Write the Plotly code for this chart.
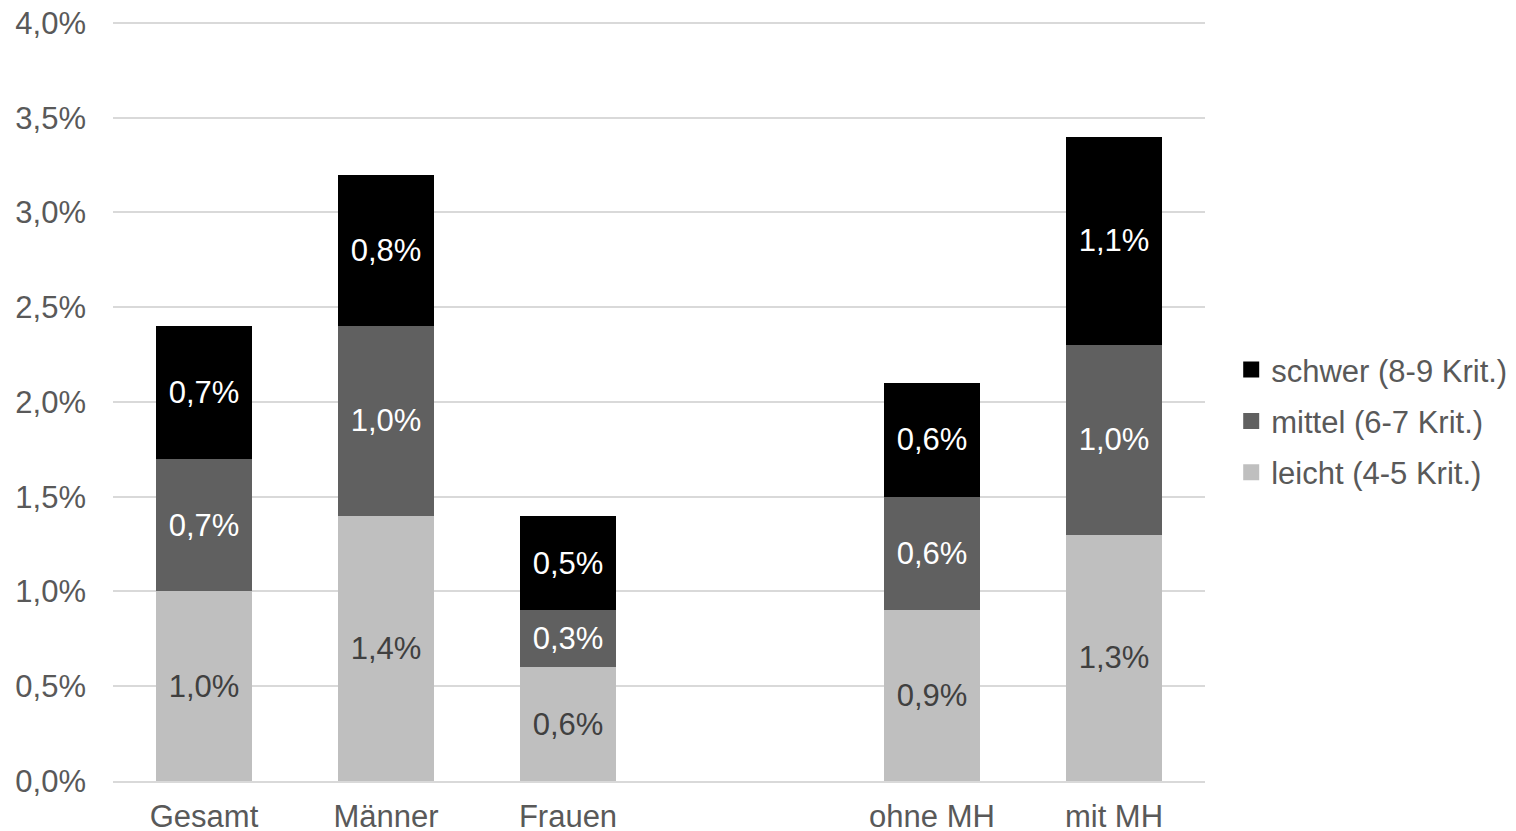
import plotly.graph_objects as go

# Anteile nach Schweregrad (in %), leere Kategorie als Abstand
categories = ["Gesamt", "Männer", "Frauen", " ", "ohne MH", "mit MH"]
leicht = [1.0, 1.4, 0.6, None, 0.9, 1.3]
mittel = [0.7, 1.0, 0.3, None, 0.6, 1.0]
schwer = [0.7, 0.8, 0.5, None, 0.6, 1.1]

y_ticks = [0.0, 0.5, 1.0, 1.5, 2.0, 2.5, 3.0, 3.5, 4.0]

FONT = "Liberation Sans, Arial, sans-serif"
FS = 31


def fmt(v):
    return "" if v is None else f"{v:.1f}".replace(".", ",") + "%"


series = [
    ("leicht (4-5 Krit.)", leicht, "#BFBFBF", "#404040", 3),
    ("mittel (6-7 Krit.)", mittel, "#606060", "#FFFFFF", 2),
    ("schwer (8-9 Krit.)", schwer, "#000000", "#FFFFFF", 1),
]

fig = go.Figure()
for name, vals, color, tcolor, rank in series:
    fig.add_trace(go.Bar(
        x=categories,
        y=vals,
        name=name,
        showlegend=False,
        marker=dict(color=color, line=dict(width=0)),
        text=[fmt(v) for v in vals],
        textposition="inside",
        insidetextanchor="middle",
        constraintext="none",
        textangle=0,
        textfont=dict(family=FONT, size=FS, color=tcolor),
        hoverinfo="skip",
    ))
    # Legendeneintrag mit quadratischem Symbol
    fig.add_trace(go.Scatter(
        x=[None], y=[None],
        mode="markers",
        name=name,
        legendgroup=name,
        legendrank=rank,
        marker=dict(symbol="square", size=16, color=color),
        hoverinfo="skip",
    ))

fig.update_layout(
    barmode="stack",
    bargap=0.473,
    width=1516,
    height=831,
    margin=dict(l=113, r=311, t=19, b=50, autoexpand=False),
    plot_bgcolor="white",
    paper_bgcolor="white",
    font=dict(family=FONT, size=FS, color="#595959"),
    uniformtext=dict(minsize=FS, mode="show"),
    legend=dict(
        x=1.024, xanchor="left",
        y=0.4725, yanchor="middle",
        traceorder="grouped",
        tracegroupgap=8,
        itemwidth=30,
        font=dict(family=FONT, size=FS, color="#595959"),
        bgcolor="rgba(0,0,0,0)",
    ),
    xaxis=dict(
        type="category",
        categoryorder="array",
        categoryarray=categories,
        showgrid=False,
        showline=True,
        linecolor="#D9D9D9",
        linewidth=2,
        ticks="",
        automargin=False,
        ticklabelstandoff=7,
        tickfont=dict(family=FONT, size=FS, color="#595959"),
    ),
    yaxis=dict(
        range=[0, 4.021],
        tickvals=y_ticks,
        ticktext=[f"{v:.1f}".replace(".", ",") + "%" for v in y_ticks],
        showgrid=True,
        gridcolor="#D9D9D9",
        gridwidth=2,
        zeroline=False,
        showline=False,
        ticks="",
        automargin=False,
        ticklabelstandoff=26,
        tickfont=dict(family=FONT, size=FS, color="#595959"),
    ),
)

fig.write_html("out.html")
